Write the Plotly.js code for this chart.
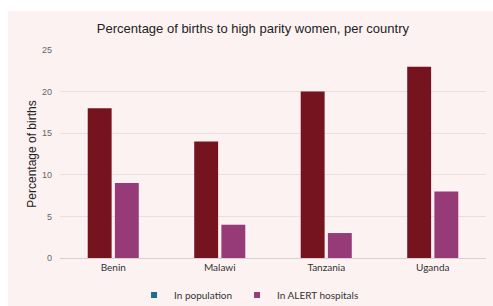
<!DOCTYPE html>
<html>
<head>
<meta charset="utf-8">
<script src="https://cdn.plot.ly/plotly-3.0.1.min.js"></script>
<style>
html,body{margin:0;padding:0;background:#ffffff;width:493px;height:306px;overflow:hidden;}
#chart{position:absolute;left:8px;top:11px;width:485px;height:295px;}
</style>
</head>
<body>
<div id="chart"></div>
<script>
const countries = ["Benin", "Malawi", "Tanzania", "Uganda"];
const inPopulation = [18, 14, 20, 23];
const inAlertHospitals = [9, 4, 3, 8];
const yTicks = [0, 5, 10, 15, 20, 25];
const seriesNames = ["In population", "In ALERT hospitals"];
const legendColors = ["#1f6e8c", "#963a78"];

const traces = [
  {type: "bar", x: countries, y: inPopulation, name: seriesNames[0],
   marker: {color: "#75131f"}, showlegend: false},
  {type: "bar", x: countries, y: inAlertHospitals, name: seriesNames[1],
   marker: {color: "#963a78"}, showlegend: false},
  {type: "scatter", mode: "markers", x: [null], y: [null], name: seriesNames[0],
   marker: {color: legendColors[0], symbol: "square", size: 6}, hoverinfo: "skip"},
  {type: "scatter", mode: "markers", x: [null], y: [null], name: seriesNames[1],
   marker: {color: legendColors[1], symbol: "square", size: 6}, hoverinfo: "skip"}
];

const layout = {
  width: 485, height: 295,
  paper_bgcolor: "#fdf2f2", plot_bgcolor: "#fdf2f2",
  margin: {l: 52, r: 7, t: 39, b: 48},
  barmode: "group", bargap: 0.49, bargroupgap: 0.12,
  title: {text: "Percentage of births to high parity women, per country",
          font: {family: "Liberation Sans, Arial", size: 13, color: "#222"},
          xref: "container", x: 0.505, xanchor: "center",
          yref: "container", y: 0.94, yanchor: "middle"},
  xaxis: {tickfont: {family: "Lato", size: 10, color: "#333"},
          showline: true, linecolor: "#d8d0d0", linewidth: 1, ticks: "", showgrid: false},
  yaxis: {range: [0, 25], tickvals: yTicks, ticktext: yTicks.map(String),
          tickfont: {family: "Liberation Sans, Arial", size: 9, color: "#666"},
          gridcolor: "#e9dfdf", gridwidth: 1, zeroline: false, ticks: "",
          ticklabelstandoff: 7,
          title: {text: "Percentage of births", standoff: 2,
                  font: {family: "Liberation Sans, Arial", size: 12, color: "#222"}}},
  legend: {orientation: "h", xref: "container", x: 0.497, xanchor: "center",
           yref: "container", y: 0.037, yanchor: "middle",
           font: {family: "Lato", size: 10, color: "#333"},
           itemwidth: 30, tracegroupgap: 0, bgcolor: "rgba(0,0,0,0)"},
  showlegend: true
};

Plotly.newPlot("chart", traces, layout, {displayModeBar: false, staticPlot: true});
</script>
</body>
</html>
